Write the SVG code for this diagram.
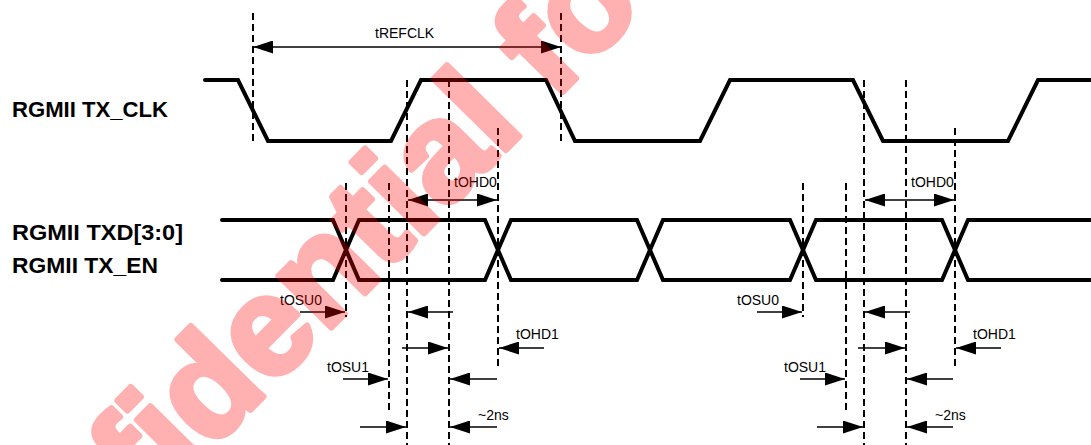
<svg xmlns="http://www.w3.org/2000/svg" width="1091" height="445" viewBox="0 0 1091 445">
<style>
.sig{fill:none;stroke:#000;stroke-width:4;stroke-linejoin:miter;stroke-linecap:round}
.dash{fill:none;stroke:#000;stroke-width:2;stroke-dasharray:7 4}
.arr{fill:none;stroke:#000;stroke-width:1.5}
.big{font-family:"Liberation Sans",Arial,sans-serif;font-weight:bold;font-size:22px;fill:#000}
.lbl{font-family:"Liberation Sans",Arial,sans-serif;font-size:14px;fill:#000}
.wm{font-family:"Liberation Sans",Arial,sans-serif;font-weight:bold;font-size:140px;fill:#ff0000;stroke:#ff0000;stroke-width:6;stroke-linejoin:round}
</style>
<defs>
<marker id="ah" markerUnits="userSpaceOnUse" markerWidth="20" markerHeight="13" refX="20" refY="6.5" orient="auto-start-reverse">
<path d="M0,0 L20,6.5 L0,13 Z" fill="#000"/>
</marker>
</defs>
<rect width="1091" height="445" fill="#fff"/>
<g id="label-txclk"><text class="big" x="12" y="117" textLength="156" lengthAdjust="spacingAndGlyphs">RGMII TX_CLK</text></g>
<g id="label-txd"><text class="big" x="12" y="240" textLength="171" lengthAdjust="spacingAndGlyphs">RGMII TXD[3:0]</text></g>
<g id="label-txen"><text class="big" x="12" y="273" textLength="146" lengthAdjust="spacingAndGlyphs">RGMII TX_EN</text></g>
<g id="signal-txclk">
<path class="sig" d="M205,80 L238,80 L268,141 L391,141 L421,80 L546,80 L575,141 L700,141 L730,80 L853,80 L883,141 L1008,141 L1038,80 L1093,80"/>
</g>
<g id="signal-txd">
<path class="sig" d="M222,220 L333,220 L359,280 L485,280 L511,220 L637,220 L663,280 L790,280 L816,220 L942,220 L968,280 L1093,280"/>
<path class="sig" d="M222,280 L333,280 L359,220 L485,220 L511,280 L637,280 L663,220 L790,220 L816,280 L942,280 L968,220 L1093,220"/>
</g>
<g id="guides">
<line class="dash" x1="253" y1="13" x2="253" y2="142"/>
<line class="dash" x1="561" y1="13" x2="561" y2="142"/>
<line class="dash" x1="407" y1="80" x2="407" y2="445"/>
<line class="dash" x1="449" y1="80" x2="449" y2="445"/>
<line class="dash" x1="498" y1="128" x2="498" y2="367"/>
<line class="dash" x1="389" y1="183" x2="389" y2="410"/>
<line class="dash" x1="346" y1="183" x2="346" y2="317"/>
<line class="dash" x1="864" y1="80" x2="864" y2="445"/>
<line class="dash" x1="906" y1="80" x2="906" y2="445"/>
<line class="dash" x1="955" y1="128" x2="955" y2="367"/>
<line class="dash" x1="846" y1="183" x2="846" y2="410"/>
<line class="dash" x1="803" y1="183" x2="803" y2="317"/>
</g>
<g id="connectors">
<line class="arr" x1="253" y1="47" x2="561" y2="47" marker-start="url(#ah)" marker-end="url(#ah)"/>
<line class="arr" x1="408" y1="200" x2="497" y2="200" marker-start="url(#ah)" marker-end="url(#ah)"/>
<line class="arr" x1="865" y1="200" x2="954" y2="200" marker-start="url(#ah)" marker-end="url(#ah)"/>
<line class="arr" x1="300" y1="312" x2="345" y2="312" marker-end="url(#ah)"/>
<line class="arr" x1="757" y1="312" x2="802" y2="312" marker-end="url(#ah)"/>
<line class="arr" x1="453" y1="312" x2="408" y2="312" marker-end="url(#ah)"/>
<line class="arr" x1="910" y1="312" x2="865" y2="312" marker-end="url(#ah)"/>
<line class="arr" x1="402" y1="348" x2="448" y2="348" marker-end="url(#ah)"/>
<line class="arr" x1="858" y1="348" x2="905" y2="348" marker-end="url(#ah)"/>
<line class="arr" x1="544" y1="348" x2="499" y2="348" marker-end="url(#ah)"/>
<line class="arr" x1="1001" y1="348" x2="956" y2="348" marker-end="url(#ah)"/>
<line class="arr" x1="343" y1="379" x2="388" y2="379" marker-end="url(#ah)"/>
<line class="arr" x1="800" y1="379" x2="845" y2="379" marker-end="url(#ah)"/>
<line class="arr" x1="497" y1="379" x2="450" y2="379" marker-end="url(#ah)"/>
<line class="arr" x1="953" y1="379" x2="907" y2="379" marker-end="url(#ah)"/>
<line class="arr" x1="360" y1="427" x2="406" y2="427" marker-end="url(#ah)"/>
<line class="arr" x1="817" y1="427" x2="863" y2="427" marker-end="url(#ah)"/>
<line class="arr" x1="497" y1="427" x2="450" y2="427" marker-end="url(#ah)"/>
<line class="arr" x1="953" y1="427" x2="907" y2="427" marker-end="url(#ah)"/>
</g>
<g id="timing-labels">
<text class="lbl" x="375" y="38">tREFCLK</text>
<text class="lbl" x="454" y="187">tOHD0</text>
<text class="lbl" x="911" y="187">tOHD0</text>
<text class="lbl" x="280" y="305">tOSU0</text>
<text class="lbl" x="737" y="305">tOSU0</text>
<text class="lbl" x="516" y="339">tOHD1</text>
<text class="lbl" x="973" y="339">tOHD1</text>
<text class="lbl" x="327" y="372">tOSU1</text>
<text class="lbl" x="784" y="372">tOSU1</text>
<text class="lbl" x="478" y="420">~2ns</text>
<text class="lbl" x="935" y="420">~2ns</text>
</g>
<g id="watermark" opacity="0.3">
<text class="wm" transform="translate(150,512) rotate(-45.5)">fidential fo</text>
</g>
</svg>
